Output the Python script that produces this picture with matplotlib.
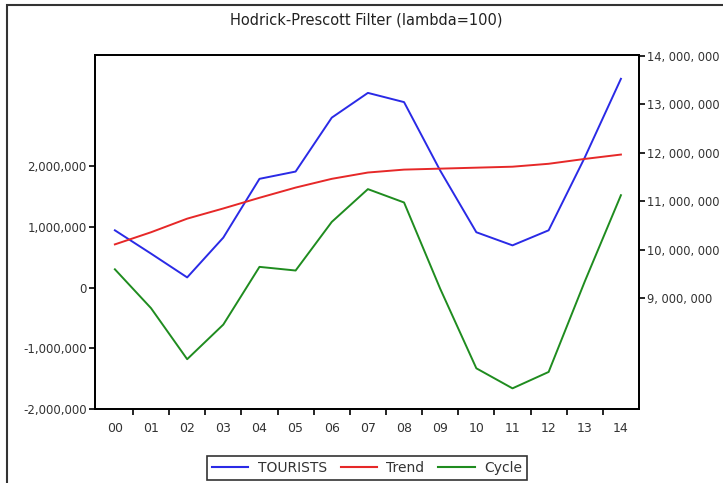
import matplotlib.pyplot as plt
from matplotlib.patches import Rectangle
from matplotlib.lines import Line2D

years = ["00", "01", "02", "03", "04", "05", "06", "07", "08", "09", "10", "11", "12", "13", "14"]
tourists = [10.40e6, 9.92e6, 9.43e6, 10.25e6, 11.46e6, 11.61e6, 12.72e6, 13.23e6,
            13.04e6, 11.63e6, 10.36e6, 10.09e6, 10.40e6, 11.90e6, 13.52e6]
trend = [10.11e6, 10.36e6, 10.64e6, 10.85e6, 11.07e6, 11.28e6, 11.46e6, 11.59e6,
         11.65e6, 11.67e6, 11.69e6, 11.71e6, 11.77e6, 11.87e6, 11.96e6]
cycle = [0.30e6, -0.34e6, -1.18e6, -0.61e6, 0.34e6, 0.28e6, 1.08e6, 1.62e6,
         1.40e6, -0.02e6, -1.33e6, -1.66e6, -1.39e6, 0.10e6, 1.52e6]

left_ticks = [-2e6, -1e6, 0, 1e6, 2e6]
right_ticks = [9e6, 10e6, 11e6, 12e6, 13e6, 14e6]

txt = "#333333"
plt.rcParams["font.family"] = ["DejaVu Sans"]

W, H = 723, 483
fig = plt.figure(figsize=(W / 100, H / 100), dpi=100)
# axes box in pixels: left 95, right 639, top 55.5, bottom 409
ax = fig.add_axes([95 / W, 1 - 409 / H, (639 - 95) / W, (409 - 55.5) / H])
ax2 = ax.twinx()

x = list(range(len(years)))
l1, = ax2.plot(x, tourists, color="#2a2ae6", lw=1.4)
l2, = ax2.plot(x, trend, color="#e62828", lw=1.4)
l3, = ax.plot(x, cycle, color="#1f8c1f", lw=1.4)

ax.set_xlim(-0.55, 14.5)
ax.set_ylim(-2e6, 3.82e6)
ax2.set_ylim(6.72e6, 14e6)

ax.set_xticks(x)
ax.set_xticklabels(years)
ax.set_xticks([i + 0.5 for i in x[:-1]], minor=True)
ax.tick_params(axis="x", which="major", length=0, pad=9, labelsize=9, labelcolor=txt)
ax.tick_params(axis="x", which="minor", length=4, width=1.2, direction="out")

ax.set_yticks(left_ticks)
ax.set_yticklabels([f"{int(v):,}" for v in left_ticks])
ax.tick_params(axis="y", length=4, width=1.2, labelsize=8.5, labelcolor=txt, pad=2)

ax2.set_yticks(right_ticks)
ax2.set_yticklabels([f"{int(v):,}".replace(",", ", ") for v in right_ticks])
ax2.tick_params(axis="y", length=4, width=1.2, labelsize=8.3, labelcolor=txt, pad=2)

for a in (ax, ax2):
    for s in a.spines.values():
        s.set_linewidth(1.3)

fig.text(0.507, 0.958, "Hodrick-Prescott Filter (lambda=100)", ha="center", va="center",
         fontsize=10.5, color="#222222")

handles = [Line2D([], [], color=l.get_color(), lw=1.5) for l in (l1, l2, l3)]
leg = fig.legend(handles, ["TOURISTS", "Trend", "Cycle"], loc="upper center", ncol=3,
                 bbox_to_anchor=(367 / W, 1 - 456 / H), frameon=True, fancybox=False,
                 fontsize=10, handlelength=2.6, columnspacing=1.0, handletextpad=0.7,
                 borderpad=0.35, borderaxespad=0, labelcolor=txt)
leg.get_frame().set_edgecolor("black")
leg.get_frame().set_linewidth(1.2)

# outer frame of the graph window
fig.patches.append(Rectangle((7 / W, -0.05), 1.1, 0.04 + 0.999, transform=fig.transFigure,
                             fill=False, edgecolor="#333333", lw=1.5))

fig.savefig("out.png", dpi=100)
